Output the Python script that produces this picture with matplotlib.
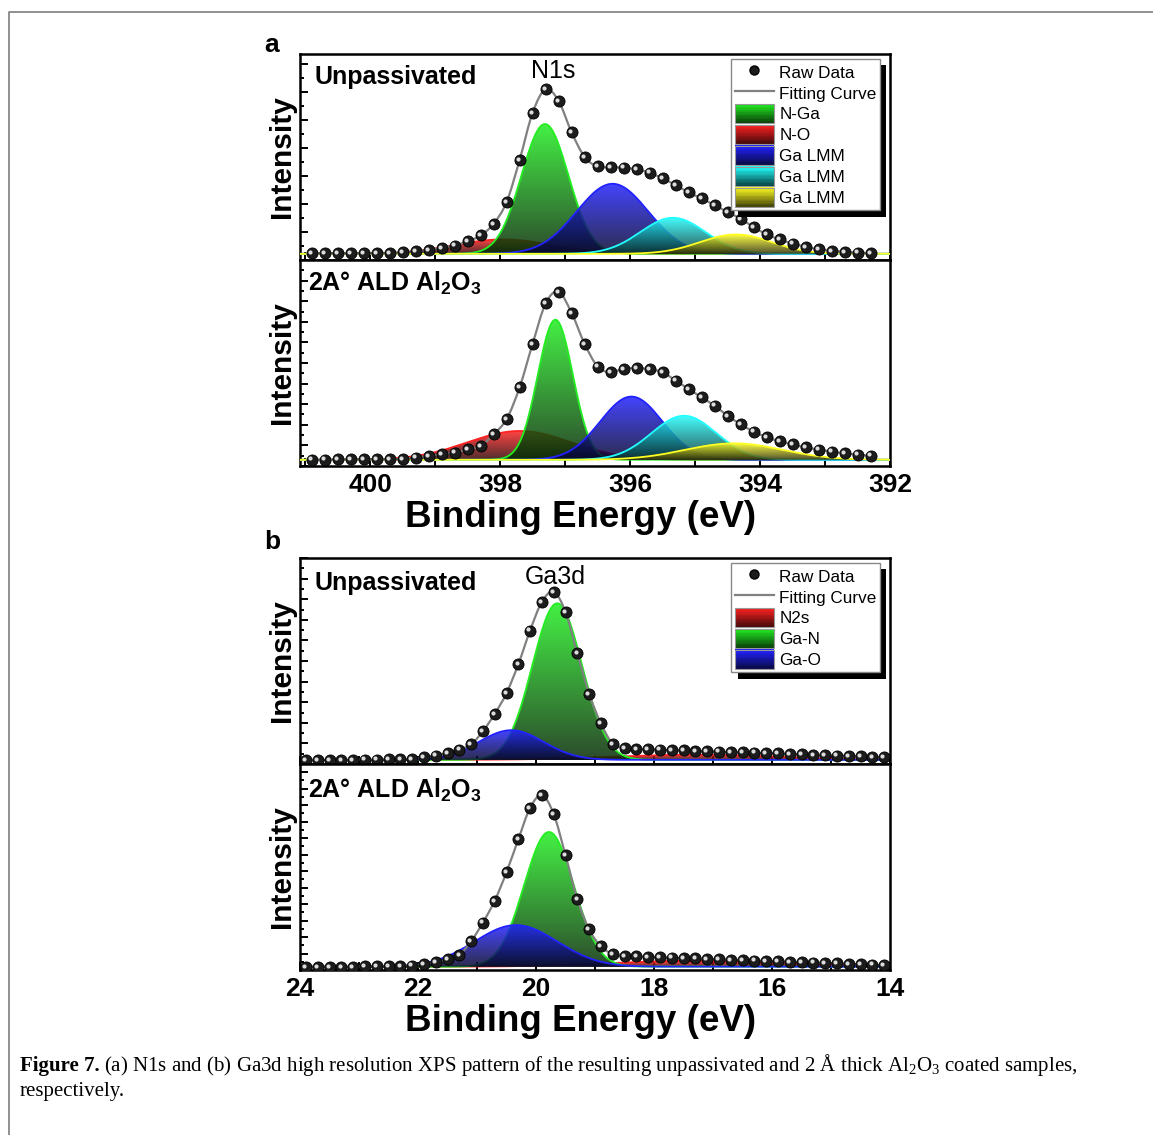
import numpy as np
import matplotlib
matplotlib.use('Agg')
import matplotlib.pyplot as plt
import matplotlib.colors as mcolors
import matplotlib.patheffects as pe
import matplotlib.transforms as mtransforms
from matplotlib.path import Path
from matplotlib.patches import PathPatch, Polygon, Rectangle, Patch
from matplotlib.lines import Line2D
from matplotlib.legend_handler import HandlerBase
from matplotlib.ticker import MultipleLocator, NullFormatter

plt.rcParams['font.family'] = ['Liberation Sans', 'DejaVu Sans']
plt.rcParams['mathtext.fontset'] = 'custom'
plt.rcParams['mathtext.rm'] = 'Liberation Sans:bold'
plt.rcParams['mathtext.sf'] = 'Liberation Serif'
plt.rcParams['mathtext.default'] = 'rm'

# ---- N1s (panel a) ----
be_n1s = [400.9, 400.7, 400.5, 400.3, 400.1, 399.9, 399.7, 399.5, 399.3, 399.1,
          398.9, 398.7, 398.5, 398.3, 398.1, 397.9, 397.7, 397.5, 397.3, 397.1,
          396.9, 396.7, 396.5, 396.3, 396.1, 395.9, 395.7, 395.5, 395.3, 395.1,
          394.9, 394.7, 394.5, 394.3, 394.1, 393.9, 393.7, 393.5, 393.3, 393.1,
          392.9, 392.7, 392.5, 392.3]
n1s_unpass_raw = [0.033, 0.033, 0.033, 0.033, 0.034, 0.034, 0.035, 0.038, 0.042, 0.049,
                  0.059, 0.070, 0.091, 0.119, 0.176, 0.282, 0.486, 0.715, 0.829, 0.772,
                  0.620, 0.500, 0.454, 0.450, 0.449, 0.440, 0.424, 0.396, 0.364, 0.328,
                  0.299, 0.266, 0.233, 0.200, 0.160, 0.125, 0.100, 0.080, 0.064, 0.052,
                  0.045, 0.040, 0.036, 0.034]
n1s_ald_raw = [0.031, 0.031, 0.032, 0.032, 0.033, 0.033, 0.033, 0.034, 0.041, 0.049,
               0.057, 0.065, 0.081, 0.098, 0.154, 0.228, 0.382, 0.593, 0.789, 0.846,
               0.743, 0.593, 0.483, 0.455, 0.472, 0.476, 0.470, 0.455, 0.415, 0.374,
               0.333, 0.293, 0.244, 0.203, 0.167, 0.140, 0.120, 0.105, 0.090, 0.080,
               0.070, 0.062, 0.055, 0.050]
n1s_names = ['N-Ga', 'N-O', 'Ga LMM', 'Ga LMM', 'Ga LMM']
n1s_colors = ['#22ee22', '#ff2222', '#2222ff', '#22ffff', '#ffff22']
n1s_order = [1, 0, 2, 3, 4]
n1s_unpass_center = [397.31, 397.95, 396.27, 395.34, 394.37]
n1s_unpass_top = [0.66, 0.10, 0.37, 0.205, 0.124]
n1s_unpass_sigma = [0.36, 0.75, 0.55, 0.50, 0.55]
n1s_ald_center = [397.15, 397.70, 395.98, 395.17, 394.40]
n1s_ald_top = [0.71, 0.17, 0.337, 0.244, 0.11]
n1s_ald_sigma = [0.27, 0.80, 0.48, 0.50, 0.75]

# ---- Ga3d (panel b) ----
be_ga3d = [23.9, 23.7, 23.5, 23.3, 23.1, 22.9, 22.7, 22.5, 22.3, 22.1,
           21.9, 21.7, 21.5, 21.3, 21.1, 20.9, 20.7, 20.5, 20.3, 20.1,
           19.9, 19.7, 19.5, 19.3, 19.1, 18.9, 18.7, 18.5, 18.3, 18.1,
           17.9, 17.7, 17.5, 17.3, 17.1, 16.9, 16.7, 16.5, 16.3, 16.1,
           15.9, 15.7, 15.5, 15.3, 15.1, 14.9, 14.7, 14.5, 14.3, 14.1]
ga3d_unpass_raw = [0.020, 0.020, 0.020, 0.020, 0.020, 0.021, 0.021, 0.022, 0.023, 0.025,
                   0.033, 0.041, 0.054, 0.070, 0.095, 0.159, 0.243, 0.344, 0.484, 0.648,
                   0.787, 0.836, 0.738, 0.538, 0.341, 0.197, 0.098, 0.079, 0.074, 0.072,
                   0.070, 0.068, 0.066, 0.064, 0.062, 0.060, 0.058, 0.057, 0.055, 0.053,
                   0.051, 0.049, 0.047, 0.045, 0.043, 0.041, 0.039, 0.037, 0.035, 0.034]
ga3d_ald_raw = [0.016, 0.016, 0.016, 0.016, 0.016, 0.017, 0.017, 0.018, 0.019, 0.021,
                0.030, 0.038, 0.052, 0.074, 0.139, 0.230, 0.336, 0.475, 0.634, 0.787,
                0.849, 0.757, 0.557, 0.344, 0.197, 0.115, 0.077, 0.069, 0.066, 0.064,
                0.062, 0.060, 0.058, 0.056, 0.054, 0.052, 0.050, 0.048, 0.046, 0.044,
                0.042, 0.040, 0.038, 0.036, 0.034, 0.032, 0.030, 0.028, 0.026, 0.024]
ga3d_names = ['N2s', 'Ga-N', 'Ga-O']
ga3d_colors = ['#ff2222', '#22ee22', '#2222ff']
ga3d_order = [0, 1, 2]
ga3d_unpass_center = [17.3, 19.64, 20.42]
ga3d_unpass_top = [0.045, 0.78, 0.164]
ga3d_unpass_sigma = [1.4, 0.42, 0.55]
ga3d_ald_center = [17.3, 19.78, 20.34]
ga3d_ald_top = [0.045, 0.67, 0.218]
ga3d_ald_sigma = [1.4, 0.42, 0.70]

fig = plt.figure(figsize=(11.53, 11.35), dpi=100)


class GradientHandler(HandlerBase):
    def create_artists(self, legend, orig_handle, xdescent, ydescent,
                       width, height, fontsize, trans):
        c = np.array(mcolors.to_rgb(orig_handle.get_facecolor()))
        arts = []
        n = 14
        for k in range(n):
            f = (k + 0.5) / n
            col = c * 0.25 + c * 0.75 * f
            arts.append(Rectangle((-xdescent, -ydescent + k * height / n), width,
                                  height / n + 0.3, facecolor=col, edgecolor='none',
                                  transform=trans))
        arts.append(Rectangle((-xdescent, -ydescent), width, height, facecolor='none',
                              edgecolor='#999999', lw=0.8, transform=trans))
        return arts


def gradient_peak(ax, xs, base, top, center, sigma, color, z):
    ys = base + (top - base) * np.exp(-0.5 * ((xs - center) / sigma) ** 2)
    verts = np.column_stack([np.r_[xs, xs[::-1]], np.r_[ys, np.full_like(xs, base)]])
    clip = Polygon(verts, closed=True, facecolor='none', edgecolor='none',
                   transform=ax.transData)
    ax.add_patch(clip)
    c = np.array(mcolors.to_rgb(color))
    t = np.linspace(0, 1, 256)[:, None]
    dark = c * 0.18
    rgba = np.ones((256, 1, 4))
    rgba[:, 0, :3] = dark + (c - dark) * t
    rgba[:, 0, 3] = 0.85
    im = ax.imshow(rgba, extent=[xs.min(), xs.max(), base, top], origin='lower',
                   aspect='auto', interpolation='bilinear', zorder=z)
    im.set_clip_path(clip)
    ax.plot(xs, ys, color=color, lw=1.3, zorder=z + 0.1)


def smooth_line(ax, x, y):
    pts = np.column_stack([x, y])
    verts = [pts[0]]
    codes = [Path.MOVETO]
    n = len(pts)
    for i in range(n - 1):
        p0 = pts[max(i - 1, 0)]
        p1 = pts[i]
        p2 = pts[i + 1]
        p3 = pts[min(i + 2, n - 1)]
        verts += [p1 + (p2 - p0) / 6, p2 - (p3 - p1) / 6, p2]
        codes += [Path.CURVE4] * 3
    ax.add_patch(PathPatch(Path(verts, codes), fill=False, edgecolor='#808080',
                           lw=1.6, zorder=5))


def raw_dots(ax, x, y):
    ax.plot(x, y, ls='none', marker='o', ms=8, mfc='#1c1c1c', mec='#000000',
            mew=0.6, zorder=6)
    hl = mtransforms.offset_copy(ax.transData, fig=fig, x=-1.8, y=1.2, units='dots')
    ax.plot(x, y, ls='none', marker='o', ms=3, mfc='#dcdcdc', mec='none',
            zorder=7, transform=hl)


def draw_panel(ax, be, raw, centers, tops, sigmas, colors, order, base, xlim):
    xs = np.linspace(min(xlim), max(xlim), 700)
    for k, i in enumerate(order):
        gradient_peak(ax, xs, base, tops[i], centers[i], sigmas[i], colors[i], 2 + k * 0.2)
    smooth_line(ax, be, raw)
    raw_dots(ax, be, raw)
    ax.set_xlim(xlim)
    ax.set_ylim(0, 1)


def style_axes(ax, major_y, minor_y, show_x):
    ax.xaxis.set_major_locator(MultipleLocator(2))
    ax.xaxis.set_minor_locator(MultipleLocator(1))
    ax.yaxis.set_major_locator(MultipleLocator(major_y))
    ax.yaxis.set_minor_locator(MultipleLocator(minor_y))
    ax.yaxis.set_major_formatter(NullFormatter())
    ax.tick_params(which='both', direction='in', top=False, right=False, width=1.4)
    ax.tick_params(which='major', length=5.5)
    ax.tick_params(axis='y', which='minor', length=3)
    ax.tick_params(axis='x', which='minor', length=5.5)
    ax.tick_params(axis='x', labelbottom=show_x, labelsize=19, pad=5)
    for lab in ax.get_xticklabels():
        lab.set_fontweight('bold')
    for s in ax.spines.values():
        s.set_linewidth(1.8)
    ax.set_ylabel('Intensity', fontsize=21.5, fontweight='bold')
    ax.yaxis.set_label_coords(-0.006, 0.5)
    if show_x:
        ax.set_xlabel('Binding Energy (eV)', fontsize=26.5, fontweight='bold', labelpad=1)
        ax.xaxis.set_label_coords(0.475, -0.165)


def add_legend(ax, names, colors, top):
    handles = [Line2D([], [], ls='none', marker='o', ms=6.5, mfc='#1c1c1c', mec='#000'),
               Line2D([], [], color='#808080', lw=1.6)]
    handles += [Patch(facecolor=c) for c in colors]
    labels = ['Raw Data', 'Fitting Curve'] + names
    leg = ax.legend(handles, labels, loc='upper right', bbox_to_anchor=(0.983, top),
                    fontsize=12.3, frameon=True, fancybox=False, framealpha=1,
                    edgecolor='#888888', borderpad=0.2, labelspacing=0.1,
                    handlelength=2.3, handleheight=1.35, handletextpad=0.3,
                    borderaxespad=0, handler_map={Patch: GradientHandler()})
    leg.get_frame().set_linewidth(1.0)
    leg.get_frame().set_path_effects([pe.SimplePatchShadow(offset=(4.5, -4.5),
                                      shadow_rgbFace='k', alpha=1.0), pe.Normal()])
    leg.set_zorder(10)


L, W, H = 300 / 1153, 590 / 1153, 206 / 1135
ax_a1 = fig.add_axes([L, 1 - 260 / 1135, W, H])
ax_a2 = fig.add_axes([L, 1 - 466 / 1135, W, H])
ax_b1 = fig.add_axes([L, 1 - 764 / 1135, W, H])
ax_b2 = fig.add_axes([L, 1 - 970 / 1135, W, H])

xlim_a = (401.08, 392.0)
xlim_b = (24.0, 14.0)

draw_panel(ax_a1, be_n1s, n1s_unpass_raw, n1s_unpass_center, n1s_unpass_top,
           n1s_unpass_sigma, n1s_colors, n1s_order, 0.03, xlim_a)
draw_panel(ax_a2, be_n1s, n1s_ald_raw, n1s_ald_center, n1s_ald_top,
           n1s_ald_sigma, n1s_colors, n1s_order, 0.03, xlim_a)
draw_panel(ax_b1, be_ga3d, ga3d_unpass_raw, ga3d_unpass_center, ga3d_unpass_top,
           ga3d_unpass_sigma, ga3d_colors, ga3d_order, 0.02, xlim_b)
draw_panel(ax_b2, be_ga3d, ga3d_ald_raw, ga3d_ald_center, ga3d_ald_top,
           ga3d_ald_sigma, ga3d_colors, ga3d_order, 0.016, xlim_b)

style_axes(ax_a1, 0.136, 0.068, False)
style_axes(ax_a2, 0.1, 0.05, True)
style_axes(ax_b1, 0.1, 0.05, False)
style_axes(ax_b2, 0.08, 0.04, True)

add_legend(ax_a1, n1s_names, n1s_colors, 0.976)
add_legend(ax_b1, ga3d_names, ga3d_colors, 0.976)

ald_label = '2A\u00b0 ALD Al$_2$O$_3$'
ax_a1.text(0.025, 0.888, 'Unpassivated', transform=ax_a1.transAxes, fontsize=18,
           fontweight='bold', va='center', zorder=9)
ax_a1.text(0.429, 0.917, 'N1s', transform=ax_a1.transAxes, fontsize=18,
           ha='center', va='center', zorder=9)
ax_a2.text(0.014, 0.888, ald_label, transform=ax_a2.transAxes, fontsize=18,
           fontweight='bold', va='center', zorder=9)
ax_b1.text(0.025, 0.879, 'Unpassivated', transform=ax_b1.transAxes, fontsize=18,
           fontweight='bold', va='center', zorder=9)
ax_b1.text(0.432, 0.908, 'Ga3d', transform=ax_b1.transAxes, fontsize=18,
           ha='center', va='center', zorder=9)
ax_b2.text(0.014, 0.874, ald_label, transform=ax_b2.transAxes, fontsize=18,
           fontweight='bold', va='center', zorder=9)

fig.text(272 / 1153, 1 - 45 / 1135, 'a', fontsize=19, fontweight='bold',
         ha='center', va='center')
fig.text(272 / 1153, 1 - 542 / 1135, 'b', fontsize=19, fontweight='bold',
         ha='center', va='center')

# caption and page frame
cap = fig.add_axes([0, 0, 1, 1], zorder=-5)
cap.axis('off')
cap.patch.set_visible(False)
serif = ['Liberation Serif', 'DejaVu Serif']
line1_y = 1 - 1071 / 1135
t1 = cap.text(20 / 1153, line1_y, 'Figure 7.', fontsize=15, family=serif,
              fontweight='bold', va='baseline')
cap.annotate('(a) N1s and (b) Ga3d high resolution XPS pattern of the resulting '
             'unpassivated and 2 \u00c5 thick Al$_\\mathsf{2}$O$_\\mathsf{3}$ coated samples,',
             xy=(1, line1_y), xycoords=(t1, 'axes fraction'), xytext=(3.5, 0),
             textcoords='offset points', fontsize=15, family=serif, va='baseline')
cap.text(20 / 1153, 1 - 1096 / 1135, 'respectively.', fontsize=15, family=serif,
         va='baseline')
fig.add_artist(Line2D([9 / 1153, 9 / 1153, 1], [0, 1 - 12 / 1135, 1 - 12 / 1135],
                      transform=fig.transFigure, color='#888888', lw=1.3))

fig.savefig('out.png', dpi=100)
